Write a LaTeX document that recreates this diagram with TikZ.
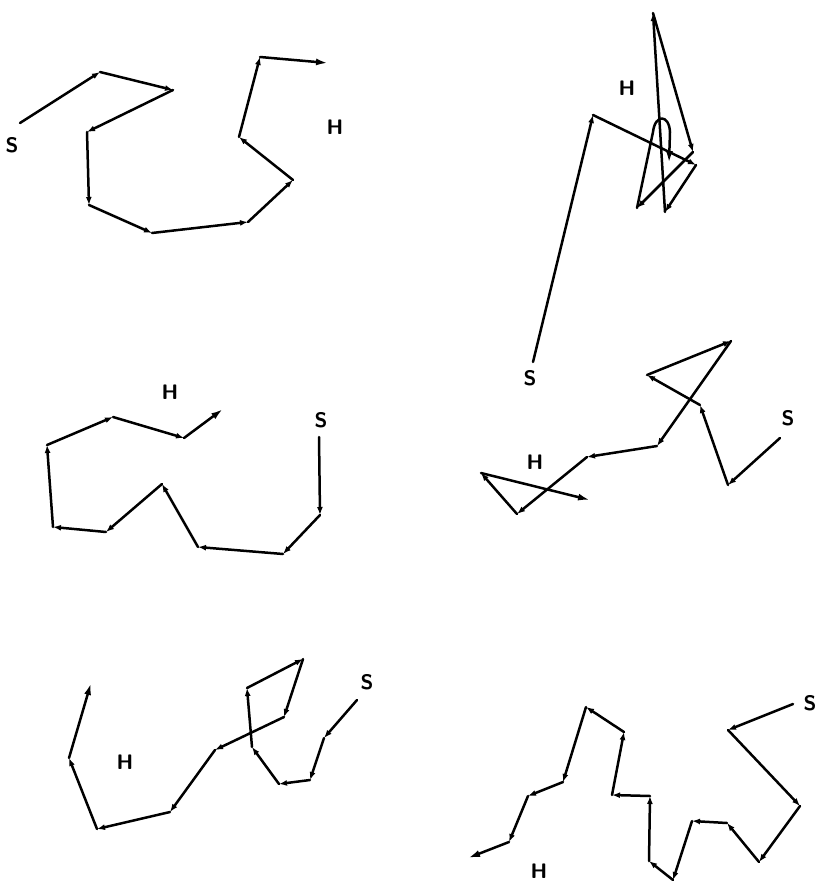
\documentclass[tikz,border=0pt]{standalone}
\usepackage{tikz}
\usetikzlibrary{arrows.meta}

\begin{document}
\begin{tikzpicture}[
  x=1pt, y=-1pt,
  seg/.style={line width=2.5pt, line cap=round, line join=round, -{Latex[length=8pt,width=6pt]}},
  lastseg/.style={seg, -{Latex[length=12pt,width=7pt]}},
  lbl/.style={font=\fontsize{21}{23}\selectfont\sffamily\bfseries, inner sep=0pt}
]
\useasboundingbox (0,0) rectangle (818,882);

% Track 1 (top left)
\foreach \x/\y [count=\k from 0] in {20/123,100/72,173/90,87/132,89/205,152/233,248/222,293/180,239/137,260/57,328/63}
  \coordinate (a\k) at (\x,\y);
\foreach \i [evaluate=\i as \h using int(\i-1)] in {1,...,9}
  \draw[seg] (a\h) -- (a\i);
\draw[lastseg] (a9) -- (a10);
\node[lbl] (sa) at (12,145) {S};
\node[lbl] (ha) at (335,127) {H};

% Track 2 (top right)
\foreach \x/\y [count=\k from 0] in {533/362,593/115,696/165,665/212,653/13,693/152,637/208,669/163}
  \coordinate (b\k) at (\x,\y);
\foreach \i [evaluate=\i as \h using int(\i-1)] in {1,...,6}
  \draw[seg] (b\h) -- (b\i);
\draw[lastseg] (b6) -- (653,132) .. controls (655,114) and (669,114) .. (670,132) -- (b7);
\node[lbl] (sb) at (530,378) {S};
\node[lbl] (hb) at (627,88) {H};

% Track 3 (middle left)
\foreach \x/\y [count=\k from 0] in {319/437,320/515,283/554,198/547,162/484,106/532,53/527,47/445,113/417,184/438,223/409}
  \coordinate (c\k) at (\x,\y);
\foreach \i [evaluate=\i as \h using int(\i-1)] in {1,...,9}
  \draw[seg] (c\h) -- (c\i);
\draw[lastseg] (c9) -- (c10);
\node[lbl] (sc) at (321,420) {S};
\node[lbl] (hc) at (170,392) {H};

% Track 4 (middle right)
\foreach \x/\y [count=\k from 0] in {780/438,728/485,700/405,647/375,731/341,657/446,587/457,517/514,481/473,590/500}
  \coordinate (d\k) at (\x,\y);
\foreach \i [evaluate=\i as \h using int(\i-1)] in {1,...,8}
  \draw[seg] (d\h) -- (d\i);
\draw[lastseg] (d8) -- (d9);
\node[lbl] (sd) at (788,418) {S};
\node[lbl] (hd) at (535,462) {H};

% Track 5 (bottom left)
\foreach \x/\y [count=\k from 0] in {357/700,324/738,310/780,279/784,252/747,247/688,303/659,284/717,215/750,170/812,97/829,69/758,91/683}
  \coordinate (e\k) at (\x,\y);
\foreach \i [evaluate=\i as \h using int(\i-1)] in {1,...,11}
  \draw[seg] (e\h) -- (e\i);
\draw[lastseg] (e11) -- (e12);
\node[lbl] (se) at (367,682) {S};
\node[lbl] (he) at (125,762) {H};

% Track 6 (bottom right)
\foreach \x/\y [count=\k from 0] in {793/704,728/730,800/806,759/862,727/823,692/821,673/880,649/861,650/796,612/795,624/732,586/707,563/782,528/796,509/842,468/858}
  \coordinate (f\k) at (\x,\y);
\foreach \i [evaluate=\i as \h using int(\i-1)] in {1,...,14}
  \draw[seg] (f\h) -- (f\i);
\draw[lastseg] (f14) -- (f15);
\node[lbl] (sf) at (810,703) {S};
\node[lbl] (hf) at (539,871) {H};

\end{tikzpicture}
\end{document}
